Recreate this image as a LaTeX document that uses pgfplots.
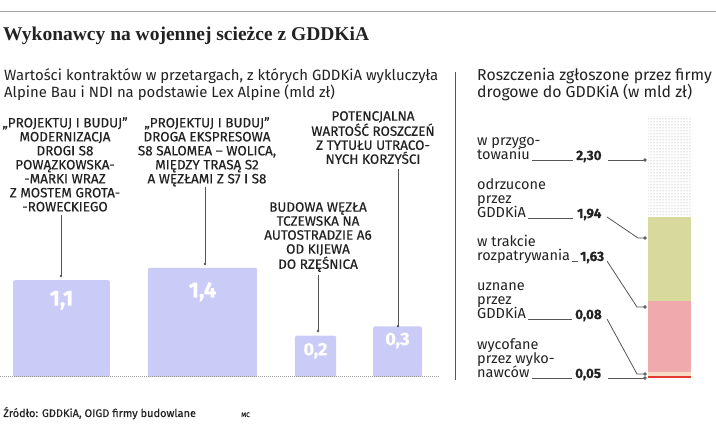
\documentclass[border=0pt]{standalone}
\usepackage{fontspec}
\setmainfont{Fira Sans}
\newfontfamily\labelfont{Fira Sans}[FakeBold=0.5]
\newfontfamily\titlefont{Liberation Serif}
\usepackage{pgfplots}
\pgfplotsset{compat=1.18}
\usetikzlibrary{patterns}
\definecolor{barc}{HTML}{CBCBF8}
\definecolor{khaki}{HTML}{D7DA9C}
\definecolor{pinkc}{HTML}{F0A9AD}
\definecolor{peach}{HTML}{F6DCC6}
\definecolor{redc}{HTML}{E23B30}
\definecolor{linec}{HTML}{555555}
\definecolor{txt}{HTML}{222222}
\begin{document}
\begin{tikzpicture}[x=1pt,y=1pt]
\path[use as bounding box] (0,0) rectangle (716,425);
\draw[gray!70, line width=1pt] (0,413) -- (716,413);
\node[anchor=base west, inner sep=0, text=txt, font=\titlefont\bfseries\fontsize{19.5}{22}\selectfont] at (3,384) {Wykonawcy na wojennej scieżce z GDDKiA};
% subtitles
\begin{scope}[every node/.style={anchor=base west, inner sep=0, text=txt, font=\fontsize{14.9}{16}\selectfont}]
\node at (4,344) {Wartości kontraktów w przetargach, z których GDDKiA wykluczyła};
\node at (4,327) {Alpine Bau i NDI na podstawie Lex Alpine (mld zł)};
\node[font=\fontsize{15.8}{16}\selectfont] at (477,344) {Roszczenia zgłoszone przez firmy};
\node[font=\fontsize{15.8}{16}\selectfont] at (477,327) {drogowe do GDDKiA (w mld zł)};
\end{scope}
\draw[linec, line width=1pt] (455,353) -- (455,45);
% left chart: square bars, side proportional to sqrt(value)
\begin{axis}[
  at={(0pt,48pt)}, anchor=south west, scale only axis,
  width=440pt, height=138.45pt,
  xmin=0, xmax=440, ymin=0, ymax=1.5,
  hide axis, clip=false,
  y filter/.expression={sqrt(y)},
  ybar, bar shift=0pt,
  point meta=explicit,
  nodes near coords={\pgfmathprintnumber[use comma,fixed,fixed zerofill,precision=1,assume math mode=true]{\pgfplotspointmeta}},
  every node near coord/.append style={anchor=center, text=white, font=\labelfont\bfseries\fontsize{22}{22}\selectfont},
]
\addplot[fill=barc, draw=none, rounded corners=2pt, bar width=96.8, every node near coord/.append style={yshift=-20pt}] coordinates {(61.5,1.1) [1.1]};
\addplot[fill=barc, draw=none, rounded corners=2pt, bar width=109.2, every node near coord/.append style={yshift=-24pt}] coordinates {(202.5,1.4) [1.4]};
\addplot[fill=barc, draw=none, rounded corners=2pt, bar width=41.3, every node near coord/.append style={yshift=-15pt, font=\labelfont\bfseries\fontsize{18}{18}\selectfont}] coordinates {(315.5,0.2) [0.2]};
\addplot[fill=barc, draw=none, rounded corners=2pt, bar width=49, every node near coord/.append style={yshift=-14pt, font=\labelfont\bfseries\fontsize{18}{18}\selectfont}] coordinates {(397.5,0.3) [0.3]};
\end{axis}
\draw[gray!80, line width=1pt, dash pattern=on 1pt off 1pt] (0,48) -- (440,48);
% left labels
\begin{scope}[every node/.style={anchor=north, inner sep=0, align=center, text=txt, font=\labelfont\fontsize{13.5}{14}\selectfont}]
\node at (65,308) {„PROJEKTUJ I BUDUJ”\\MODERNIZACJA\\DROGI S8\\POWĄZKOWSKA-\\-MARKI WRAZ\\Z MOSTEM GROTA-\\-ROWECKIEGO};
\node at (207,308) {„PROJEKTUJ I BUDUJ”\\DROGA EKSPRESOWA\\S8 SALOMEA – WOLICA,\\MIĘDZY TRASĄ S2\\A WĘZŁAMI Z S7 I S8};
\node at (318,223) {BUDOWA WĘZŁA\\TCZEWSKA NA\\AUTOSTRADZIE A6\\OD KIJEWA\\DO RZĘŚNICA};
\node at (373,314) {POTENCJALNA\\WARTOŚĆ ROSZCZEŃ\\Z TYTUŁU UTRACO-\\NYCH KORZYŚCI};
\end{scope}
\begin{scope}[linec, line width=1pt]
\draw (61,210) -- (61,149); \fill (61,149) circle (1.4pt);
\draw (205,238) -- (205,161); \fill (205,161) circle (1.4pt);
\draw (318,150) -- (318,94); \fill (318,94) circle (1.4pt);
\draw (398,256) -- (398,99); \fill (398,99) circle (1.4pt);
\end{scope}
% right chart: stacked column drawn as stacked areas
\begin{axis}[
  at={(620pt,47pt)}, anchor=south west, scale only axis,
  width=100pt, height=270.32pt,
  xmin=0, xmax=100, ymin=0, ymax=6.2,
  hide axis, clip=false,
  stack plots=y,
]
\addplot[fill=redc, draw=none] coordinates {(28,0.05) (71,0.05)} \closedcycle;
\addplot[fill=peach, draw=none] coordinates {(28,0.08) (71,0.08)} \closedcycle;
\addplot[fill=pinkc, draw=none] coordinates {(28,1.63) (71,1.63)} \closedcycle;
\addplot[fill=khaki, draw=none] coordinates {(28,1.94) (71,1.94)} \closedcycle;
\addplot[pattern=dots, pattern color=gray!80, draw=none] coordinates {(28,2.30) (71,2.30)} \closedcycle;
\end{axis}
% right labels
\begin{scope}[every node/.style={anchor=base west, inner sep=0, text=txt, font=\fontsize{14.5}{14}\selectfont}]
\node at (477,279) {w przygo-};
\node (a) at (477,265) {towaniu};
\node at (477,235) {odrzucone};
\node at (477,221) {przez};
\node (b) at (477,207) {GDDKiA};
\node at (477,178) {w trakcie};
\node (c) at (477,164) {rozpatrywania};
\node at (477,134) {uznane};
\node at (477,120) {przez};
\node (d) at (477,106) {GDDKiA};
\node at (477,75) {wycofane};
\node at (477,61) {przez wyko-};
\node (e) at (477,47) {nawców};
\end{scope}
\begin{scope}[every node/.style={anchor=base west, inner sep=0, text=txt, font=\labelfont\bfseries\fontsize{13.5}{14}\selectfont}]
\node at (576,265) {2,30};
\node at (577,207) {1,94};
\node at (580,164) {1,63};
\node at (575,106) {0,08};
\node at (575,47) {0,05};
\end{scope}
\begin{scope}[linec, line width=0.8pt]
\draw ([xshift=2pt]a.base east) -- (573,265);
\draw (608,265) -- (645,265); \draw[fill=white] (645,265) circle (1.3pt);
\draw ([xshift=2pt]b.base east) -- (573,207);
\draw (607,208) -- (638,187) -- (645,187); \draw[fill=white] (645,187) circle (1.3pt);
\draw ([xshift=2pt]c.base east) -- (578,164);
\draw (607,164) -- (637,118) -- (645,118); \draw[fill=white] (645,118) circle (1.3pt);
\draw ([xshift=2pt]d.base east) -- (572,106);
\draw (607,106) -- (637,51) -- (645,51); \draw[fill=white] (645,51) circle (1.3pt);
\draw ([xshift=2pt]e.base east) -- (572,47);
\draw (608,47) -- (645,47); \draw[fill=white] (645,47) circle (1.3pt);
\end{scope}
% source
\node[anchor=base west, inner sep=0, text=txt, font=\labelfont\fontsize{11}{12}\selectfont] at (3,8) {Źródło: GDDKiA, OIGD firmy budowlane};
\node[anchor=base west, inner sep=0, text=txt, font=\labelfont\fontsize{6.5}{8}\selectfont] at (241,8) {MC};
\end{tikzpicture}
\end{document}
